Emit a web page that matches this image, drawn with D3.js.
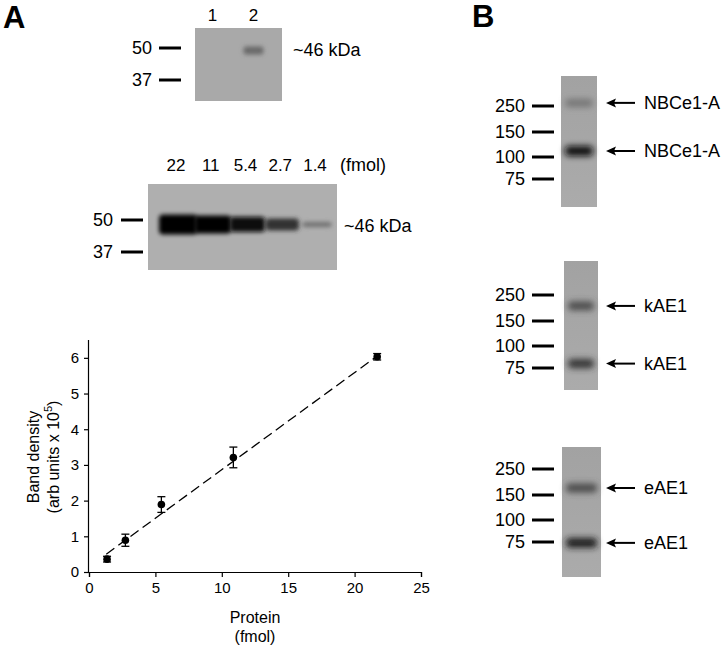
<!DOCTYPE html>
<html>
<head>
<meta charset="utf-8">
<script src="https://cdn.jsdelivr.net/npm/d3@7"></script>
<style>
  body { margin: 0; background: #fff; }
  svg { display: block; font-family: "Liberation Sans", Arial, sans-serif; }
</style>
</head>
<body>
<svg id="fig" width="726" height="649"></svg>
<script>
// ---- data ----
const proteinFmol = [1.36, 2.74, 5.45, 10.87, 21.7];
const bandDensity = [0.36, 0.89, 1.89, 3.21, 6.03];
const densityErr = [0.08, 0.17, 0.22, 0.29, 0.09];
const fitFmol = [1.3, 21.7];
const fitDensity = [0.5, 6.05];
const xTickValues = [0, 5, 10, 15, 20, 25];
const yTickValues = [0, 1, 2, 3, 4, 5, 6];

const detectLanes = ['1', '2'];
const detectSignal = [0, 0.38];
const stdLanes = ['22', '11', '5.4', '2.7', '1.4'];
const stdSignal = [1, 0.9, 0.78, 0.62, 0.3];
const markersA = [50, 37];
const bandKdaA = 49; // apparent migration of the ~46 kDa band

const markersB = [250, 150, 100, 75];
const blotNamesB = ['NBCe1-A', 'kAE1', 'eAE1'];
const bandKdaB = [[262, 112], [208, 80], [177, 74]];
const bandSignalB = [[0.3, 0.9], [0.55, 0.68], [0.55, 0.82]];

const svg = d3.select('#fig');
const defs = svg.append('defs');
defs.append('filter').attr('id', 'blur')
  .attr('x', '-60%').attr('y', '-150%').attr('width', '220%').attr('height', '400%')
  .append('feGaussianBlur').attr('stdDeviation', 2.2);
defs.append('filter').attr('id', 'blurSoft')
  .attr('x', '-60%').attr('y', '-150%').attr('width', '220%').attr('height', '400%')
  .append('feGaussianBlur').attr('stdDeviation', 3.2);

const grad = defs.append('linearGradient').attr('id', 'gelB')
  .attr('x1', 0).attr('y1', 0).attr('x2', 0).attr('y2', 1);
grad.append('stop').attr('offset', '0%').attr('stop-color', '#a2a2a2');
grad.append('stop').attr('offset', '100%').attr('stop-color', '#ababab');

// panel letters
svg.append('text').attr('x', 3).attr('y', 28).attr('font-size', 31)
  .attr('font-weight', 'bold').text('A');
svg.append('text').attr('x', 472).attr('y', 27).attr('font-size', 31)
  .attr('font-weight', 'bold').text('B');

const darkness = d3.scaleLinear().domain([0, 1]).range(['#a9a9a9', '#000']);

// generic blot drawer
function drawBlot(o) {
  const g = svg.append('g').attr('transform', `translate(${o.x},${o.y})`);
  g.append('rect').attr('width', o.w).attr('height', o.h)
    .attr('fill', o.fill);
  const gel = d3.scaleLinear().domain(o.markers).range(o.markerY);
  // markers
  const mk = svg.append('g');
  mk.selectAll('line').data(o.markers).join('line')
    .attr('x1', o.tickX0).attr('x2', o.tickX1)
    .attr('y1', d => o.y + gel(d)).attr('y2', d => o.y + gel(d))
    .attr('stroke', '#000').attr('stroke-width', 3);
  mk.selectAll('text').data(o.markers).join('text')
    .attr('x', o.labelX).attr('y', d => o.y + gel(d))
    .attr('text-anchor', 'end').attr('dominant-baseline', 'central')
    .attr('font-size', 18).text(d => d);
  return { g, gel };
}

// ---- Panel A, top blot ----
{
  const { g, gel } = drawBlot({ x: 195, y: 28, w: 87, h: 73, fill: '#a9a9a9',
    markers: markersA, markerY: [20, 52], tickX0: 159, tickX1: 181, labelX: 152 });
  const lane = d3.scalePoint().domain(detectLanes).range([17.5, 58.5]);
  g.selectAll('.band').data(detectLanes).join('rect')
    .attr('x', d => lane(d) - 10).attr('width', 20)
    .attr('y', gel(bandKdaA) - 4).attr('height', 8).attr('rx', 3)
    .attr('fill', (d, i) => darkness(detectSignal[i]))
    .attr('opacity', (d, i) => detectSignal[i] > 0 ? 1 : 0)
    .attr('filter', 'url(#blur)');
  svg.selectAll('.laneA').data(detectLanes).join('text')
    .attr('x', d => 195 + lane(d)).attr('y', 21).attr('text-anchor', 'middle')
    .attr('font-size', 17).text(d => d);
  svg.append('text').attr('x', 293).attr('y', 50).attr('dominant-baseline', 'central')
    .attr('font-size', 18).text('~46 kDa');
}

// ---- Panel A, standard curve blot ----
{
  const { g, gel } = drawBlot({ x: 148, y: 184, w: 189, h: 86, fill: '#afafaf',
    markers: markersA, markerY: [36, 68], tickX0: 121, tickX1: 143, labelX: 113 });
  const lane = d3.scalePoint().domain(stdLanes).range([30, 169]);
  const bw = d3.scaleLinear().domain([0, 1]).range([26, 38]);
  const bh = d3.scaleLinear().domain([0.3, 1]).range([5, 20]);
  g.selectAll('.band').data(stdLanes).join('rect')
    .attr('x', (d, i) => lane(d) - bw(stdSignal[i]) / 2)
    .attr('width', (d, i) => bw(stdSignal[i]))
    .attr('y', (d, i) => gel(bandKdaA) + 2 - bh(stdSignal[i]) / 2)
    .attr('height', (d, i) => bh(stdSignal[i]))
    .attr('rx', 4)
    .attr('fill', (d, i) => darkness(Math.min(1, stdSignal[i] * 1.15)))
    .attr('filter', 'url(#blur)');
  svg.selectAll('.laneStd').data(stdLanes).join('text')
    .attr('x', d => 148 + lane(d) - 2).attr('y', 165).attr('text-anchor', 'middle')
    .attr('dominant-baseline', 'central').attr('font-size', 17).text(d => d);
  svg.append('text').attr('x', 363).attr('y', 165).attr('text-anchor', 'middle')
    .attr('dominant-baseline', 'central').attr('font-size', 18).text('(fmol)');
  svg.append('text').attr('x', 344).attr('y', 226).attr('dominant-baseline', 'central')
    .attr('font-size', 18).text('~46 kDa');
}

// ---- Panel B blots ----
const blotBoxB = [
  { x: 561, y: 76, w: 36, h: 131, top: 30 },
  { x: 564, y: 261, w: 34, h: 129, top: 34 },
  { x: 562, y: 447, w: 39, h: 130, top: 22 }
];
blotNamesB.forEach((name, k) => {
  const b = blotBoxB[k];
  const { g, gel } = drawBlot({ x: b.x, y: b.y, w: b.w, h: b.h, fill: 'url(#gelB)',
    markers: markersB, markerY: [b.top, b.top + 26, b.top + 51, b.top + 73],
    tickX0: 532, tickX1: 554, labelX: 525 });
  const bands = bandKdaB[k].map((kda, i) => ({ kda, s: bandSignalB[k][i] }));
  const bh = d3.scaleLinear().domain([0.3, 0.9]).range([8, 10]);
  g.selectAll('.band').data(bands).join('rect')
    .attr('x', 4).attr('width', b.w - 8)
    .attr('y', d => gel(d.kda) - bh(d.s) / 2).attr('height', d => bh(d.s))
    .attr('rx', 4)
    .attr('fill', d => darkness(d.s))
    .attr('filter', 'url(#blurSoft)');
  // arrows + labels
  const ag = svg.append('g');
  ag.selectAll('line').data(bands).join('line')
    .attr('x1', 612).attr('x2', 635)
    .attr('y1', d => b.y + gel(d.kda)).attr('y2', d => b.y + gel(d.kda))
    .attr('stroke', '#000').attr('stroke-width', 2);
  ag.selectAll('path').data(bands).join('path')
    .attr('d', d => {
      const y = b.y + gel(d.kda);
      return `M606,${y} L616,${y - 4.5} L614,${y} L616,${y + 4.5} Z`;
    })
    .attr('fill', '#000');
  ag.selectAll('text').data(bands).join('text')
    .attr('x', 644).attr('y', d => b.y + gel(d.kda))
    .attr('dominant-baseline', 'central').attr('font-size', 18).text(name);
});

// ---- Panel A, standard curve scatter ----
const x = d3.scaleLinear().domain([0, 25]).range([89, 421]);
const y = d3.scaleLinear().domain([0, 6.5]).range([572, 340]);

const xAxis = d3.axisBottom(x).tickValues(xTickValues).tickSize(5).tickPadding(5)
  .tickFormat(d3.format('d'));
const yAxis = d3.axisLeft(y).tickValues(yTickValues).tickSize(5).tickPadding(5)
  .tickFormat(d3.format('d'));

const xAxisG = svg.append('g').attr('transform', `translate(0,${y(0)})`).call(xAxis);
const yAxisG = svg.append('g').attr('transform', `translate(${x(0)},0)`).call(yAxis);
yAxisG.select('.domain').attr('d', `M-0.5,${y(0)}V${y(6.5)}`);
[xAxisG, yAxisG].forEach(a => {
  a.selectAll('text').attr('font-size', 15).attr('fill', '#000')
    .attr('font-family', '"Liberation Sans", Arial, sans-serif');
  a.selectAll('line, path').attr('stroke', '#000').attr('stroke-width', 1.2);
});

svg.append('text').attr('x', 255).attr('y', 617).attr('text-anchor', 'middle')
  .attr('dominant-baseline', 'central').attr('font-size', 16).text('Protein');
svg.append('text').attr('x', 255).attr('y', 636).attr('text-anchor', 'middle')
  .attr('dominant-baseline', 'central').attr('font-size', 16).text('(fmol)');

// rotated y title: baseline sits on the right of the glyphs after rotation
svg.append('text').attr('transform', 'translate(39,457) rotate(-90)')
  .attr('text-anchor', 'middle').attr('font-size', 16)
  .text('Band density');
const yl2 = svg.append('text').attr('transform', 'translate(59,457) rotate(-90)')
  .attr('text-anchor', 'middle').attr('font-size', 16);
yl2.append('tspan').text('(arb units x 10');
yl2.append('tspan').attr('font-size', 11).attr('dy', -7).text('5');
yl2.append('tspan').attr('dy', 7).text(')');

// fit line
svg.append('line')
  .attr('x1', x(fitFmol[0])).attr('y1', y(fitDensity[0]))
  .attr('x2', x(fitFmol[1])).attr('y2', y(fitDensity[1]))
  .attr('stroke', '#000').attr('stroke-width', 1.3).attr('stroke-dasharray', '10,5');

const pts = proteinFmol.map((p, i) => ({ p, d: bandDensity[i], e: densityErr[i] }));
const eg = svg.append('g').attr('stroke', '#000').attr('stroke-width', 1.3);
eg.selectAll('.v').data(pts).join('line')
  .attr('x1', d => x(d.p)).attr('x2', d => x(d.p))
  .attr('y1', d => y(d.d - d.e)).attr('y2', d => y(d.d + d.e));
eg.selectAll('.t').data(pts).join('line')
  .attr('x1', d => x(d.p) - 4).attr('x2', d => x(d.p) + 4)
  .attr('y1', d => y(d.d + d.e)).attr('y2', d => y(d.d + d.e));
eg.selectAll('.b').data(pts).join('line')
  .attr('x1', d => x(d.p) - 4).attr('x2', d => x(d.p) + 4)
  .attr('y1', d => y(d.d - d.e)).attr('y2', d => y(d.d - d.e));
svg.append('g').selectAll('circle').data(pts).join('circle')
  .attr('cx', d => x(d.p)).attr('cy', d => y(d.d)).attr('r', 3.8).attr('fill', '#000');
</script>
</body>
</html>
